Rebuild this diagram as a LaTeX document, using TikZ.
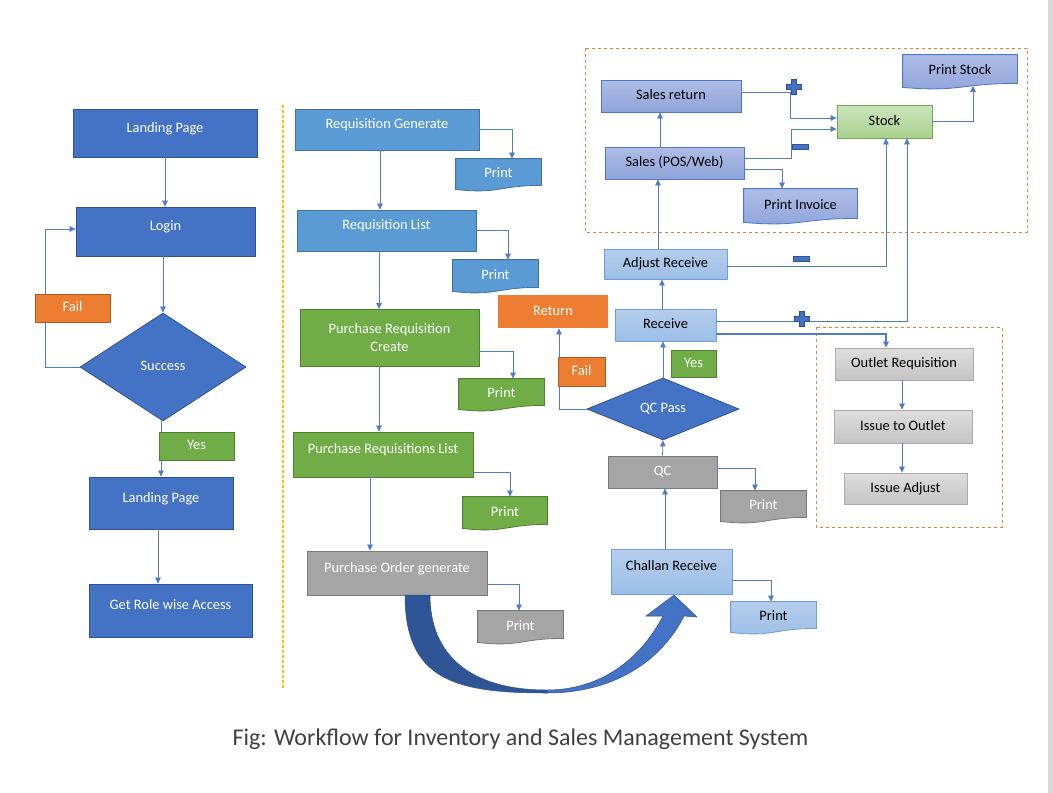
\documentclass[tikz,border=0pt]{standalone}
\usepackage{fontspec}
\setmainfont{Carlito}
\usetikzlibrary{shapes.geometric,arrows.meta,backgrounds}

\definecolor{navyfill}{HTML}{4472C4}
\definecolor{navyline}{HTML}{2F528F}
\definecolor{skyfill}{HTML}{5B9BD5}
\definecolor{skyline}{HTML}{41719C}
\definecolor{leaffill}{HTML}{70AD47}
\definecolor{leafline}{HTML}{507E32}
\definecolor{ashfill}{HTML}{A5A5A5}
\definecolor{ashline}{HTML}{787878}
\definecolor{amberfill}{HTML}{ED7D31}
\definecolor{amberline}{HTML}{AE5A21}
\definecolor{icetop}{HTML}{B5CDEB}
\definecolor{icebot}{HTML}{9CBFE7}
\definecolor{iceline}{HTML}{6E9FD8}
\definecolor{lilactop}{HTML}{AFBDE6}
\definecolor{lilacbot}{HTML}{8EA4DA}
\definecolor{lilacline}{HTML}{4A77C6}
\definecolor{minttop}{HTML}{CBE4BC}
\definecolor{mintbot}{HTML}{A9D18E}
\definecolor{mintline}{HTML}{70AD47}
\definecolor{fogtop}{HTML}{DEDEDE}
\definecolor{fogbot}{HTML}{C4C4C4}
\definecolor{fogline}{HTML}{AAAAAA}
\definecolor{linkblue}{HTML}{4F7BCB}
\definecolor{dividergold}{HTML}{FFC000}
\definecolor{deepblue}{HTML}{2F5597}
\definecolor{edgegrey}{HTML}{D9D9D9}
\definecolor{captext}{HTML}{404040}

\tikzset{
	boxbase/.style={draw, inner sep=0pt, line width=0.8pt, text height=10pt, text depth=3pt, font=\fontsize{14.4}{18}\selectfont},
	navybox/.style={boxbase, fill=navyfill, draw=navyline, text=white},
	skybox/.style={boxbase, fill=skyfill, draw=skyline, text=white},
	leafbox/.style={boxbase, fill=leaffill, draw=leafline, text=white},
	ashbox/.style={boxbase, fill=ashfill, draw=ashline, text=white},
	amberbox/.style={boxbase, fill=amberfill, draw=amberline, text=white},
	icebox/.style={boxbase, top color=icetop, bottom color=icebot, draw=iceline},
	lilacbox/.style={boxbase, top color=lilactop, bottom color=lilacbot, draw=lilacline},
	mintbox/.style={boxbase, top color=minttop, bottom color=mintbot, draw=mintline},
	fogbox/.style={boxbase, top color=fogtop, bottom color=fogbot, draw=fogline},
	docnode/.style={boxbase, draw=none},
	tall/.style={text depth=12pt},
	link/.style={->, draw=linkblue, line width=0.75pt},
	group/.style={dashed, draw=amberfill, line width=0.9pt},
	sign/.style={fill=navyfill, draw=navyline, line width=0.6pt}
}

\begin{document}
\begin{tikzpicture}[x=1pt, y=-1pt, >={Triangle[length=6pt,width=5.5pt]}]
	\useasboundingbox (0,0) rectangle (1053,793);

	\draw[dash pattern=on 3pt off 2pt, draw=dividergold, line width=1.2pt] (283,105) -- (283,690);
	\draw[group] (585,48) rectangle (1027,232);
	\draw[group] (816,327) rectangle (1002,527);

	\node[navybox, tall, minimum width=184, minimum height=48] (land1) at (165,133) {Landing Page};
	\node[navybox, tall, minimum width=179, minimum height=49] (login) at (165.5,231.5) {Login};
	\node[navybox, diamond, aspect=1.5, minimum width=166, minimum height=108] (succ) at (163,367) {Success};
	\node[navybox, tall, minimum width=144, minimum height=52] (land2) at (161,503) {Landing Page};
	\node[navybox, tall, minimum width=163, minimum height=53] (role) at (170.5,610.5) {Get Role wise Access};

	\node[skybox, tall, minimum width=184, minimum height=41] (rgen) at (387,129.5) {Requisition Generate};
	\node[skybox, tall, minimum width=179, minimum height=41] (rlist) at (386.5,230.5) {Requisition List};
	\node[leafbox, align=center, text height=, text depth=, minimum width=179, minimum height=57] (prc) at (389.5,338) {Purchase Requisition\\Create};
	\node[leafbox, tall, minimum width=180, minimum height=45] (prl) at (383,454.5) {Purchase Requisitions List};
	\node[ashbox, tall, minimum width=180, minimum height=44] (pog) at (397,573) {Purchase Order generate};

	\node[icebox, tall, minimum width=121, minimum height=45] (chal) at (671.5,571.5) {Challan Receive};
	\node[ashbox, minimum width=109, minimum height=32] (qc) at (662.5,472) {QC};
	\node[navybox, diamond, aspect=2.4, minimum width=152, minimum height=62] (qcp) at (663,409) {QC Pass};
	\node[amberbox, draw=none, minimum width=110, minimum height=33] (ret) at (553,311.5) {Return};
	\node[icebox, minimum width=101, minimum height=32] (recv) at (665.5,325) {Receive};
	\node[icebox, minimum width=123, minimum height=30] (adj) at (665.5,264) {Adjust Receive};

	\node[fogbox, minimum width=138, minimum height=32] (outreq) at (904,364) {Outlet Requisition};
	\node[fogbox, minimum width=138, minimum height=33] (issue) at (903,426.5) {Issue to Outlet};
	\node[fogbox, minimum width=123, minimum height=31] (issadj) at (905.5,488.5) {Issue Adjust};

	\node[lilacbox, minimum width=140, minimum height=32] (salesret) at (671,96) {Sales return};
	\node[lilacbox, minimum width=139, minimum height=32] (sales) at (674.5,163) {Sales (POS/Web)};
	\node[mintbox, minimum width=95, minimum height=33] (stock) at (884.5,121.5) {Stock};

	\node[docnode, text=white, minimum width=85, minimum height=30] (pr1) at (498.5,174) {Print};
	\node[docnode, text=white, minimum width=85, minimum height=31] (pr2) at (495.5,275.5) {Print};
	\node[docnode, text=white, minimum width=85, minimum height=30] (pr3) at (501.5,394) {Print};
	\node[docnode, text=white, minimum width=84, minimum height=31] (pr4) at (505,512.5) {Print};
	\node[docnode, text=white, minimum width=85, minimum height=31] (pr5) at (520.5,626.5) {Print};
	\node[docnode, minimum width=85, minimum height=30] (pr6) at (773.5,617) {Print};
	\node[docnode, text=white, minimum width=85, minimum height=30] (pr7) at (763.5,506) {Print};
	\node[docnode, minimum width=113, minimum height=33] (prinv) at (800.5,205.5) {Print Invoice};
	\node[docnode, minimum width=114, minimum height=32] (prstock) at (960,71) {Print Stock};

	\begin{pgfonlayer}{background}
		\fill[white] (0,0) rectangle (1053,793);
		\fill[edgegrey] (1048,0) rectangle (1053,793);
		\foreach \n/\s in {pr1/skybox, pr2/skybox, pr3/leafbox, pr4/leafbox, pr5/ashbox, pr6/icebox, pr7/ashbox, prinv/lilacbox, prstock/lilacbox}
			\path[\s] (\n.north west) -- (\n.north east) -- ([yshift=4]\n.south east) .. controls ([yshift=4]\n.south) and ([yshift=-5]\n.south) .. (\n.south west) -- cycle;
	\end{pgfonlayer}

	\draw[link] (land1.south) -- ([xshift=-0.5]login.north);
	\draw[link] ([xshift=-2.5]login.south) -- (succ.north);
	\draw[link] (succ.west) -- ++(-34,0) |- ([yshift=2.5]login.west);
	\draw[link] ([xshift=-2]succ.south) -- (land2.north);
	\draw[link] ([xshift=-3]land2.south) -- ([xshift=-12.5]role.north);

	\draw[link] ([xshift=-7]rgen.south) -- ([xshift=-6.5]rlist.north);
	\draw[link] ([xshift=-7.5]rlist.south) -- ([xshift=-10.5]prc.north);
	\draw[link] ([xshift=-10.5]prc.south) -- ([xshift=-4]prl.north);
	\draw[link] ([xshift=-8]prl.south) -- ([xshift=-13]prl.south) -- ([xshift=-27]pog.north);
	\draw[link] (rgen.east) -| ([xshift=13.5]pr1.north);
	\draw[link] (rlist.east) -| ([xshift=12.5]pr2.north);
	\draw[link] ([yshift=-13.5]prc.east) -| ([xshift=11.5]pr3.north);
	\draw[link] ([yshift=-17.5]prl.east) -| ([xshift=5]pr4.north);
	\draw[link] ([yshift=-11]pog.east) -| ([xshift=-1.5]pr5.north);

	\draw[link] ([xshift=-6.5]chal.north) -- ([xshift=2.5]qc.south);
	\draw[link] ([yshift=-8.5]chal.east) -| ([xshift=-2.5]pr6.north);
	\draw[link] (qc.north) -- (qcp.south);
	\draw[link] ([yshift=4]qc.east) -| ([xshift=-8.5]pr7.north);
	\draw[link] (qcp.north) -- ([xshift=-2.5]recv.south);
	\draw[link] (qcp.west) -| ([xshift=6]ret.south);
	\draw[link] ([xshift=-3.5]recv.north) -- ([xshift=-3.5]adj.south);
	\draw[link] ([yshift=4]recv.east) -| ([xshift=22.5]stock.south);
	\draw[link, line width=1.4pt] ([yshift=-9]recv.east) -| ([xshift=-18]outreq.north);
	\draw[link] ([yshift=-2]adj.east) -| ([xshift=1.5]stock.south);
	\draw[link] ([xshift=-7.5]adj.north) -- ([xshift=-16.5]sales.south);
	\draw[link] ([xshift=-14.5]sales.north) -- ([xshift=-11]salesret.south);
	\draw[link] ([yshift=4]salesret.east) -- ++(49,0) |- ([yshift=3.5]stock.west);
	\draw[link] ([yshift=5]sales.east) -- ++(47,0) |- ([yshift=-7.5]stock.west);
	\draw[link] ([yshift=-6]sales.east) -| ([xshift=-18.5]prinv.north);
	\draw[link] (stock.east) -| ([xshift=13,yshift=1.5]prstock.south);
	\draw[link] ([xshift=-2]outreq.south) -- ([xshift=-1]issue.north);
	\draw[link] ([xshift=-1]issue.south) -- ([xshift=-3.5]issadj.north);

	\node[amberbox, minimum width=75, minimum height=28] (fail1) at (72.5,308) {Fail};
	\node[leafbox, minimum width=75, minimum height=28] (yes1) at (196.5,446) {Yes};
	\node[amberbox, minimum width=47, minimum height=29] (fail2) at (581.5,371.5) {Fail};
	\node[leafbox, minimum width=45, minimum height=27] (yes2) at (693.5,363.5) {Yes};

	\foreach \p in {(794,87),(802,319)}
		\filldraw[sign] \p ++(-2.5,-7.5) -- ++(5,0) -- ++(0,5) -- ++(5,0) -- ++(0,5) -- ++(-5,0) -- ++(0,5) -- ++(-5,0) -- ++(0,-5) -- ++(-5,0) -- ++(0,-5) -- ++(5,0) -- cycle;
	\foreach \p in {(800,147),(801,259)}
		\filldraw[sign] \p ++(-8,-2.5) rectangle ++(16,5);

	\filldraw[fill=deepblue, draw=navyline, line width=0.5pt] (405,595) .. controls (405,680) and (455,693) .. (547,693) -- (547,690) .. controls (470,690) and (430,655) .. (430,595) -- cycle;
	\filldraw[fill=navyfill, draw=navyline, line width=0.5pt] (547,693) .. controls (615,693) and (662,660) .. (684,616) -- (697,617) -- (674,595) -- (646,616) -- (663,616) .. controls (640,660) and (600,690) .. (547,690) -- cycle;

	\node[text=captext, font=\fontsize{24}{28}\selectfont] (cap) at (520.5,739) {Fig: Workflow for Inventory and Sales Management System};
\end{tikzpicture}
\end{document}
